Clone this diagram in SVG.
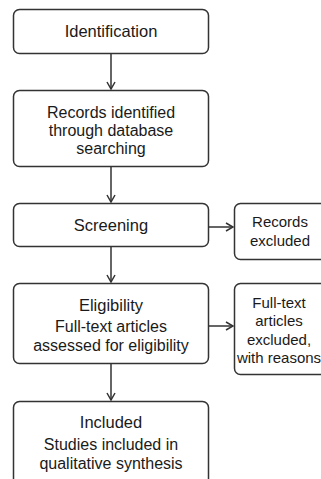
<svg xmlns="http://www.w3.org/2000/svg" width="321" height="479" viewBox="0 0 321 479">
<defs>
<style>
.box{fill:#fff;stroke:#333;stroke-width:1.5}
.t{font-family:"Liberation Sans",Arial,sans-serif;fill:#1a1a1a;text-anchor:middle}
.h{font-size:16.5px}
.b{font-size:16px}
.s{font-size:15px}
.c{fill:none;stroke:#333;stroke-width:1.5}
</style>
<marker id="ah" viewBox="0 0 10 10" refX="9" refY="5" markerWidth="10" markerHeight="10" markerUnits="userSpaceOnUse" orient="auto">
<path d="M2,1 L9,5 L2,9" fill="none" stroke="#333" stroke-width="1.5"/>
</marker>
</defs>
<rect width="321" height="479" fill="#fff"/>
<g id="connectors">
<line class="c" x1="111" y1="53" x2="111" y2="89" marker-end="url(#ah)"/>
<line class="c" x1="111" y1="167" x2="111" y2="202" marker-end="url(#ah)"/>
<line class="c" x1="111" y1="246" x2="111" y2="282" marker-end="url(#ah)"/>
<line class="c" x1="111" y1="363" x2="111" y2="400" marker-end="url(#ah)"/>
<line class="c" x1="208" y1="227" x2="233" y2="227" marker-end="url(#ah)"/>
<line class="c" x1="208" y1="326" x2="233" y2="326" marker-end="url(#ah)"/>
</g>
<g id="identification">
<rect class="box" x="13.5" y="9.5" width="195" height="44" rx="6"/>
<text class="t h" x="111" y="37">Identification</text>
</g>
<g id="records-identified">
<rect class="box" x="13.5" y="90.5" width="195" height="76" rx="6"/>
<text class="t b" x="111" y="118">Records identified</text>
<text class="t b" x="111" y="136">through database</text>
<text class="t b" x="111" y="154">searching</text>
</g>
<g id="screening">
<rect class="box" x="13.5" y="203.5" width="195" height="43" rx="6"/>
<text class="t h" x="111" y="231">Screening</text>
</g>
<g id="records-excluded">
<rect class="box" x="234.5" y="203.5" width="100" height="56" rx="6"/>
<text class="t s" x="280" y="227">Records</text>
<text class="t s" x="280" y="246">excluded</text>
</g>
<g id="eligibility">
<rect class="box" x="13.5" y="283.5" width="195" height="80" rx="6"/>
<text class="t h" x="111" y="311">Eligibility</text>
<text class="t b" x="111" y="332">Full-text articles</text>
<text class="t b" x="111" y="351">assessed for eligibility</text>
</g>
<g id="fulltext-excluded">
<rect class="box" x="234.5" y="283.5" width="100" height="91" rx="6"/>
<text class="t s" x="279" y="308">Full-text</text>
<text class="t s" x="279" y="326">articles</text>
<text class="t s" x="279" y="345">excluded,</text>
<text class="t s" x="279" y="363">with reasons</text>
</g>
<g id="included">
<rect class="box" x="13.5" y="401.5" width="195" height="90" rx="6"/>
<text class="t h" x="111" y="428">Included</text>
<text class="t b" x="111" y="450">Studies included in</text>
<text class="t b" x="111" y="469">qualitative synthesis</text>
</g>
</svg>
